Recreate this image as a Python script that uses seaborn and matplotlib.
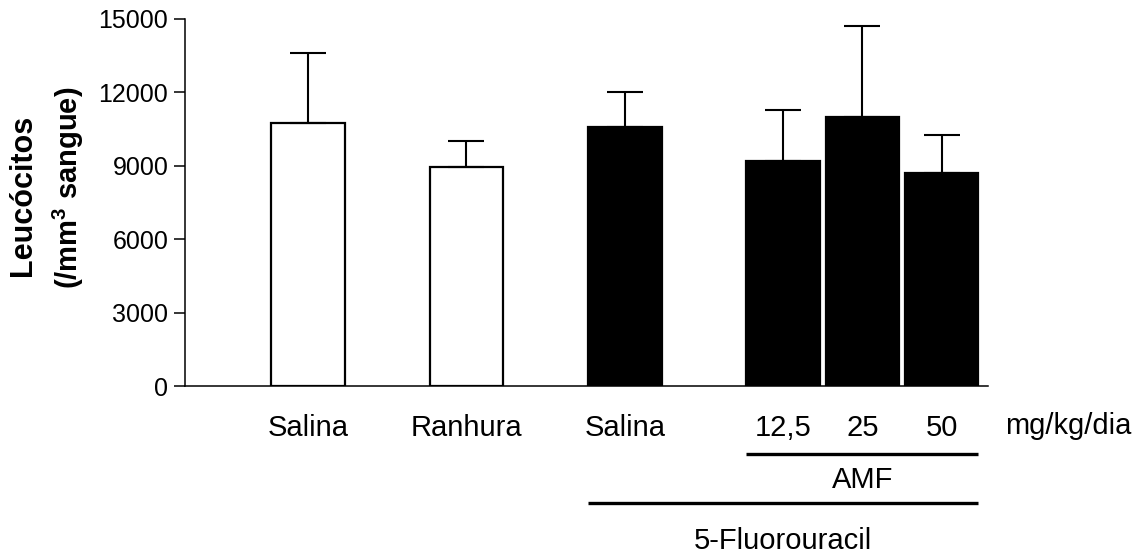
import numpy as np
import pandas as pd
import seaborn as sns
import matplotlib.pyplot as plt
from matplotlib.transforms import blended_transform_factory

# data (mean and upper SEM)
groups = ["Salina", "Ranhura", "Salina", "12,5", "25", "50"]
means = [10750, 8950, 10600, 9200, 11000, 8700]
sem = [2850, 1050, 1400, 2100, 3700, 1570]
fill = ["aberto", "aberto", "5-FU", "5-FU", "5-FU", "5-FU"]
yticks = [0, 3000, 6000, 9000, 12000, 15000]

# layout: bar slots along the x axis
xpos = [1, 3, 5, 7, 8, 9]
BAR_W = 0.93
W, H = 1144, 553

sns.set_theme(style="ticks", rc={"text.color": "black", "axes.labelcolor": "black",
                                 "xtick.color": "black", "ytick.color": "black",
                                 "axes.edgecolor": "black"})
plt.rcParams["font.family"] = ["Liberation Sans", "DejaVu Sans"]
plt.rcParams["mathtext.fontset"] = "custom"
plt.rcParams["mathtext.rm"] = "Liberation Sans"
plt.rcParams["mathtext.bf"] = "Liberation Sans:bold"

df = pd.DataFrame({"pos": xpos, "mean": means, "sem": sem, "fill": fill})

fig = plt.figure(figsize=(W / 100, H / 100), dpi=100)
ax = fig.add_axes([185 / W, (H - 386) / H, (988 - 185) / W, (386 - 19) / H])

sns.barplot(
    data=df, x="pos", y="mean", hue="fill",
    palette={"aberto": "white", "5-FU": "black"},
    native_scale=True, dodge=False, width=BAR_W,
    edgecolor="black", linewidth=1.6, errorbar=None, legend=False, ax=ax,
)
ax.errorbar(
    df["pos"], df["mean"], yerr=[np.zeros(len(df)), df["sem"]],
    fmt="none", ecolor="black", elinewidth=1.5, capsize=13, capthick=1.5,
    zorder=1,
)

ax.set_xlim(-0.553, 9.586)
ax.set_ylim(0, 15000)
ax.set_yticks(yticks)
ax.set_yticklabels([str(v) for v in yticks], fontsize=18)
ax.set_xticks(xpos)
ax.set_xticklabels(groups, fontsize=21)
ax.tick_params(axis="y", length=8, width=1.1, pad=4)
ax.tick_params(axis="x", length=0, pad=20)
ax.set_xlabel("")
ax.set_ylabel("")
for s in ("top", "right"):
    ax.spines[s].set_visible(False)
for s in ("left", "bottom"):
    ax.spines[s].set_linewidth(1.1)

# y label, two bold lines
fig.text(23 / W, 1 - 195 / H, "Leucócitos", rotation=90, fontsize=22,
         fontweight="bold", ha="center", va="center")
fig.text(68 / W, 1 - 188 / H, r"(/mm$^{\mathbf{3}}$ sangue)", rotation=90,
         fontsize=21, fontweight="bold", ha="center", va="center")

# group brackets under the axis
tr = blended_transform_factory(ax.transData, fig.transFigure)
half = BAR_W / 2
ax.text(10.6, 1 - 434 / H, "mg/kg/dia", transform=tr, fontsize=21,
        ha="center", va="baseline", clip_on=False)

amf = (xpos[3] - half, xpos[5] + half)
ax.plot(amf, [1 - 454 / H] * 2, transform=tr, color="black", lw=2.4,
        clip_on=False, solid_capstyle="butt")
ax.text(sum(amf) / 2, 1 - 488 / H, "AMF", transform=tr, fontsize=21,
        ha="center", va="baseline")

fu = (xpos[2] - half, xpos[5] + half)
ax.plot(fu, [1 - 503 / H] * 2, transform=tr, color="black", lw=2.4,
        clip_on=False, solid_capstyle="butt")
ax.text(sum(fu) / 2, 1 - 549 / H, "5-Fluorouracil", transform=tr,
        fontsize=21, ha="center", va="baseline")

fig.savefig("out.png", dpi=100, facecolor="white")
